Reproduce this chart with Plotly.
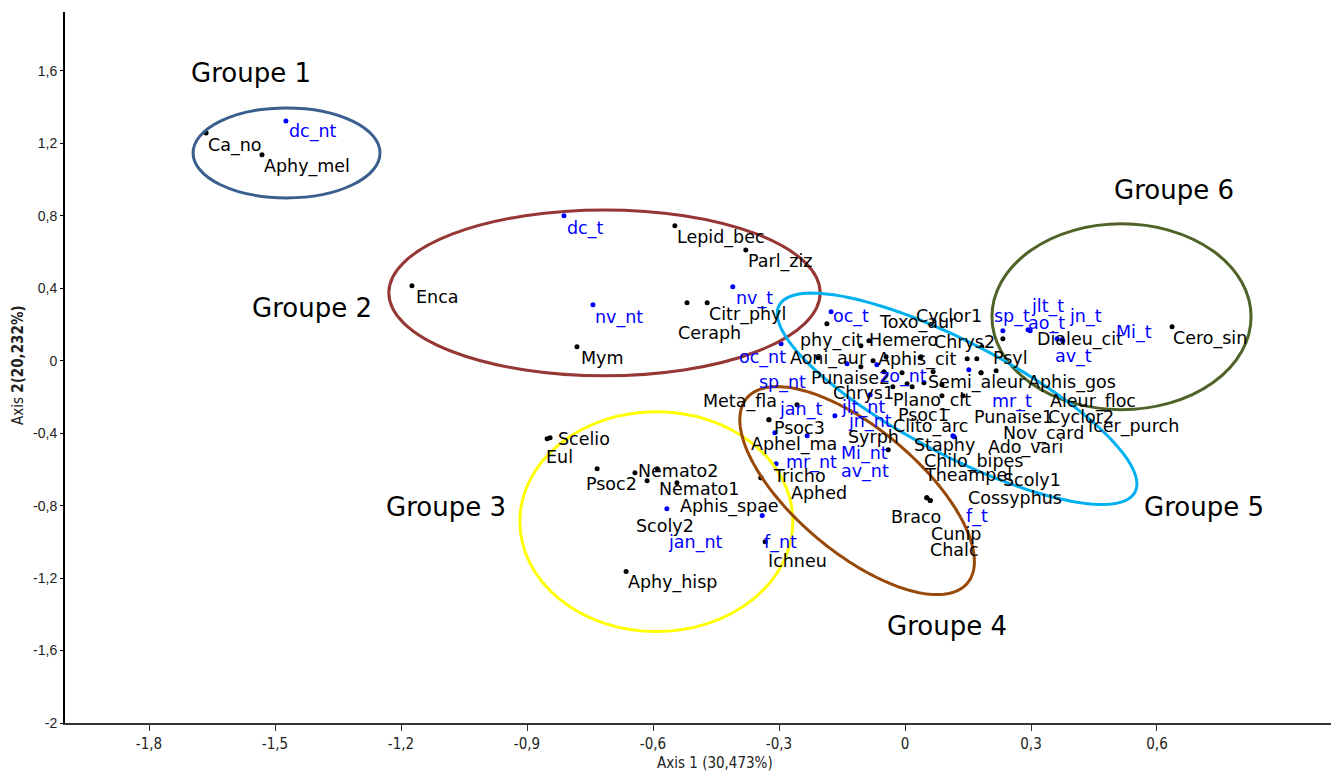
import math
import plotly.graph_objects as go

# ---------------- data ----------------
SPECIES = ["Ca_no", "Aphy_mel", "Enca", "Mym", "Lepid_bec", "Parl_ziz", "Citr_phyl", "Ceraph",
           "Scelio", "Eul", "Psoc2", "Nemato2", "Nemato1", "Scoly2", "Aphis_spae", "Ichneu", "Aphy_hisp",
           "phy_cit", "Hemero", "Toxo_aur", "Aoni_aur", "Punaise2", "Aphis_cit", "Syrph", "Scoly1", "Cyclor1",
           "Chrys2", "Aleur_floc", "Chrys1", "Theampel", "Semi_aleur", "Cyclor2", "Icer_purch", "Aphis_gos",
           "Plano_cit", "Psoc1", "Clito_arc", "Ado_vari", "Staphy", "Nov_card", "Punaise1", "Meta_fla",
           "Dialeu_cit", "Psyl", "Psoc3", "Aphel_ma", "Chilo_bipes", "Tricho", "Aphed", "Cossyphus", "Braco",
           "Cunip", "Chalc", "Cero_sin"]
SPECIES_X = [-1.664, -1.531, -1.174, -0.781, -0.548, -0.379, -0.471, -0.519,
             -0.845, -0.852, -0.733, -0.643, -0.590, -0.614, -0.543, -0.333, -0.664,
             -0.186, -0.105, -0.086, -0.207, -0.105, -0.076, -0.045, 0.036, 0.038,
             0.148, 0.171, -0.050, -0.007, 0.067, 0.181, 0.181, 0.217,
             -0.029, 0.005, 0.017, 0.045, 0.088, 0.088, 0.138, -0.257,
             0.233, 0.183, -0.324, -0.324, -0.040, -0.343, -0.343, 0.052, 0.060,
             0.052, 0.060, 0.636]
SPECIES_Y = [1.258, 1.137, 0.414, 0.077, 0.745, 0.612, 0.320, 0.320,
             -0.425, -0.430, -0.596, -0.618, -0.596, -0.662, -0.673, -0.999, -1.164,
             0.204, 0.083, 0.110, 0.017, -0.033, 0.000, 0.022, 0.017, 0.022,
             0.011, 0.011, -0.061, -0.066, -0.061, -0.066, -0.066, -0.055,
             -0.143, -0.127, -0.143, -0.121, -0.132, -0.193, -0.193, -0.243,
             0.121, 0.077, -0.326, -0.326, -0.491, -0.646, -0.646, -0.756, -0.772,
             -0.756, -0.772, 0.188]

SITES = ["dc_nt", "dc_t", "nv_nt", "nv_t", "jan_nt", "f_nt", "oc_t", "oc_nt", "sp_nt", "zo_nt",
         "jlt_nt", "jn_nt", "jan_t", "Mi_nt", "mr_nt", "av_nt", "f_t", "sp_t", "ao_t", "jlt_t",
         "jn_t", "av_t", "Mi_t", "mr_t"]
SITES_X = [-1.474, -0.812, -0.743, -0.410, -0.567, -0.340, -0.176, -0.295, -0.138, -0.067,
           -0.083, -0.167, -0.310, -0.233, -0.307, 0.114, 0.117, 0.233, 0.293, 0.298,
           0.362, 0.376, 0.374, 0.152]
SITES_Y = [1.324, 0.800, 0.309, 0.408, -0.817, -0.855, 0.270, 0.094, -0.017, -0.022,
           -0.188, -0.303, -0.397, -0.414, -0.568, -0.414, -0.419, 0.166, 0.171, 0.166,
           0.121, 0.110, 0.116, -0.050]

X_TICKS = [-1.8, -1.5, -1.2, -0.9, -0.6, -0.3, 0, 0.3, 0.6]
X_TICK_LABELS = ["-1,8", "-1,5", "-1,2", "-0,9", "-0,6", "-0,3", "0", "0,3", "0,6"]
Y_TICKS = [-2, -1.6, -1.2, -0.8, -0.4, 0, 0.4, 0.8, 1.2, 1.6]
Y_TICK_LABELS = ["-2", "-1,6", "-1,2", "-0,8", "-0,4", "0", "0,4", "0,8", "1,2", "1,6"]

X_TITLE = "Axis 1 (30,473%)"
Y_TITLE = "Axis <b>2(20,232%)</b>"

# ---------------- label placement (pixel offsets from the point) ----------------
DEFAULT_OFFSET = (2, 12)
LABEL_OFFSET = {
    "Ca_no": (1, 13), "Aphy_mel": (1, 12), "dc_nt": (2, 11), "Enca": (3, 11), "Mym": (3, 11),
    "dc_t": (2, 13), "nv_nt": (1, 13), "Lepid_bec": (1, 12), "Parl_ziz": (1, 12), "nv_t": (2, 12),
    "Citr_phyl": (1, 12), "Ceraph": (-10, 30), "Scelio": (7, 1), "Eul": (-2, 18), "Psoc2": (-12, 15),
    "Nemato2": (2, -2), "Nemato1": (1, 20), "Scoly2": (-12, 45), "Aphis_spae": (2, 24),
    "jan_nt": (0, 34), "f_nt": (1, 27), "Ichneu": (2, 19), "Aphy_hisp": (1, 11),
    "oc_t": (1, 5), "oc_nt": (-43, 14), "sp_nt": (-89, 19), "zo_nt": (2, 12), "jlt_nt": (-30, 13),
    "jn_nt": (12, 6), "jan_t": (3, -23), "Mi_nt": (33, 18), "mr_nt": (9, -1), "av_nt": (-113, 36),
    "f_t": (11, 80), "sp_t": (-10, -14), "ao_t": (-1, -6), "jlt_t": (0, -24), "jn_t": (11, -22),
    "av_t": (-9, 16), "Mi_t": (53, -7), "mr_t": (22, 32),
    "phy_cit": (-28, 17), "Hemero": (7, -6), "Toxo_aur": (9, -18), "Aoni_aur": (-29, 1),
    "Punaise2": (-51, 11), "Aphis_cit": (4, -1), "Syrph": (-39, 80), "Scoly1": (82, 122),
    "Cyclor1": (-6, -41), "Chrys2": (-34, -17), "Aleur_floc": (72, 43), "Chrys1": (-52, 21),
    "Theampel": (21, 102), "Semi_aleur": (-6, 11), "Cyclor2": (66, 44), "Icer_purch": (106, 54),
    "Aphis_gos": (31, 12), "Plano_cit": (-1, 14), "Psoc1": (-10, 31), "Clito_arc": (-20, 40),
    "Ado_vari": (63, 65), "Staphy": (-29, 60), "Nov_card": (60, 38), "Punaise1": (10, 21),
    "Meta_fla": (-95, -3), "Dialeu_cit": (33, 1), "Psyl": (10, 11), "Psoc3": (4, 8),
    "Aphel_ma": (-19, 25), "Chilo_bipes": (35, 12), "Tricho": (11, -2), "Aphed": (29, 15),
    "Cossyphus": (40, 0), "Braco": (-40, 16), "Cunip": (3, 36), "Chalc": (-1, 49), "Cero_sin": (0, 12),
}

LABEL_FONT = "DejaVu Sans, Verdana, sans-serif"
LABEL_SIZE = 17.5
BLACK = "#000000"
BLUE = "#0000ff"

fig = go.Figure()
fig.add_trace(go.Scatter(x=SPECIES_X, y=SPECIES_Y, mode="markers", text=SPECIES,
                         marker=dict(color=BLACK, size=5), hoverinfo="text", showlegend=False))
fig.add_trace(go.Scatter(x=SITES_X, y=SITES_Y, mode="markers", text=SITES,
                         marker=dict(color=BLUE, size=5), hoverinfo="text", showlegend=False))

annotations = []


def add_labels(names, xs, ys, color):
    for n, x, y in zip(names, xs, ys):
        dx, dy = LABEL_OFFSET.get(n, DEFAULT_OFFSET)
        annotations.append(dict(x=x, y=y, xref="x", yref="y", text=n, showarrow=False,
                                xanchor="left", yanchor="middle", xshift=dx - 1, yshift=-dy,
                                font=dict(family=LABEL_FONT, size=LABEL_SIZE, color=color)))


add_labels(SPECIES, SPECIES_X, SPECIES_Y, BLACK)
add_labels(SITES, SITES_X, SITES_Y, BLUE)

# group captions
GROUPS = ["Groupe 1", "Groupe 2", "Groupe 3", "Groupe 4", "Groupe 5", "Groupe 6"]
GROUP_X = [-1.557, -1.412, -1.093, 0.100, 0.712, 0.640]
GROUP_Y = [1.589, 0.292, -0.806, -1.462, -0.806, 0.943]
for g, gx, gy in zip(GROUPS, GROUP_X, GROUP_Y):
    annotations.append(dict(x=gx, y=gy, xref="x", yref="y", text=g, showarrow=False,
                            xanchor="center", yanchor="middle",
                            font=dict(family="DejaVu Sans, Verdana, sans-serif", size=26, color=BLACK)))

NARROW = "Liberation Sans Narrow, Arial Narrow, DejaVu Sans Condensed, sans-serif"
annotations.append(dict(x=0.5134, y=0, xref="paper", yref="paper", yshift=-40, text=X_TITLE,
                        showarrow=False, xanchor="center", yanchor="middle",
                        font=dict(family=NARROW, size=15, color="#222")))
annotations.append(dict(x=0, y=0.5035, xref="paper", yref="paper", xshift=-47, text=Y_TITLE,
                        showarrow=False, xanchor="center", yanchor="middle", textangle=-90,
                        font=dict(family=NARROW, size=15, color="#222")))

# group ellipses
shapes = []
ELLIPSES_AXIS = [  # (x0, x1, y0, y1, colour)
    (-1.695, -1.250, 0.899, 1.396, "#3A5F8E"),
    (-1.229, -0.202, -0.083, 0.833, "#953735"),
    (-0.917, -0.267, -1.495, -0.281, "#FFFF00"),
    (0.207, 0.824, -0.270, 0.756, "#4F6228"),
]
for x0, x1, y0, y1, c in ELLIPSES_AXIS:
    shapes.append(dict(type="circle", xref="x", yref="y", x0=x0, x1=x1, y0=y0, y1=y1,
                       line=dict(color=c, width=3), layer="above"))

ELLIPSES_TILTED = [  # centre, major half-axis vector, minor half-axis vector, colour
    ((-0.114, -0.717), (0.2626, -0.5109), (-0.095, -0.262), "#984807"),
    ((0.124, -0.210), (0.4236, -0.5153), (-0.0620, -0.2737), "#00B0F0"),
]


def ellipse_path(c, a, b, n=160):
    pts = []
    for i in range(n + 1):
        t = 2 * math.pi * i / n
        pts.append((c[0] + math.cos(t) * a[0] + math.sin(t) * b[0],
                    c[1] + math.cos(t) * a[1] + math.sin(t) * b[1]))
    return "M " + " L ".join(f"{x:.5f},{y:.5f}" for x, y in pts) + " Z"


for c, a, b, col in ELLIPSES_TILTED:
    shapes.append(dict(type="path", xref="x", yref="y", path=ellipse_path(c, a, b),
                       line=dict(color=col, width=3), layer="above"))

fig.update_layout(
    width=1331, height=771,
    margin=dict(l=65, r=0, t=12, b=48),
    paper_bgcolor="white", plot_bgcolor="white",
    annotations=annotations, shapes=shapes,
    xaxis=dict(range=[-2, 1.0143], showgrid=False, zeroline=False, showline=True,
               linecolor="#333", linewidth=2, ticks="outside", ticklen=6, tickcolor="#333",
               tickvals=X_TICKS, ticktext=X_TICK_LABELS,
               tickfont=dict(family=NARROW, size=15, color="#222")),
    yaxis=dict(range=[-2, 1.9255], showgrid=False, zeroline=False, showline=True,
               linecolor="#000", linewidth=2, ticks="outside", ticklen=3, tickcolor="#000",
               tickvals=Y_TICKS, ticktext=Y_TICK_LABELS,
               tickfont=dict(family="Liberation Sans, Arial, sans-serif", size=14, color="#222")),
    font=dict(family=LABEL_FONT),
)

fig.write_html("out.html", config={"displayModeBar": False},
               post_script="document.body.style.margin='0px';document.body.style.overflow='hidden';")
